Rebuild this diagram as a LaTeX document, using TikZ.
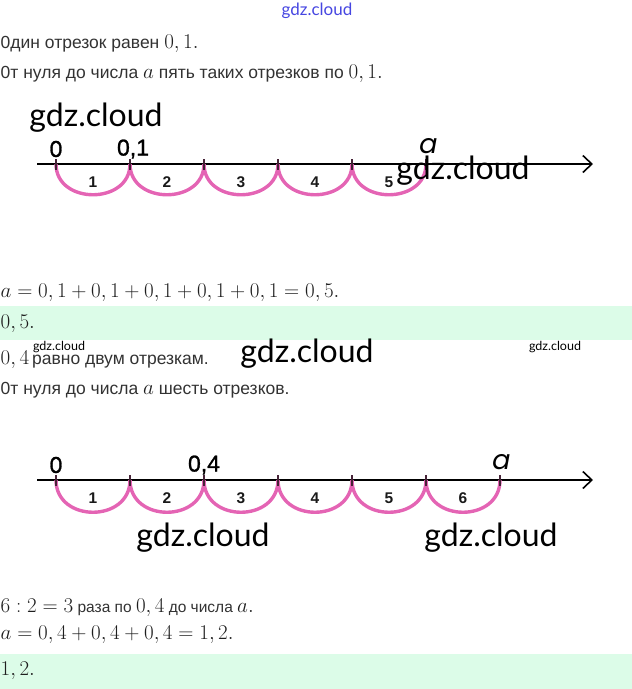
\RequirePackage{fix-cm}
\documentclass[tikz,border=0pt]{standalone}
\usepackage[no-math]{fontspec}
\newfontfamily\tx{Liberation Sans}
\newfontfamily\lbl[FakeBold=1.2]{Liberation Sans}
\newfontfamily\wm{Lato}
\newfontfamily\pop[FakeSlant=0.18]{Poppins}
\usetikzlibrary{arrows.meta}
\definecolor{txtc}{RGB}{50,50,50}
\definecolor{mathc}{RGB}{30,30,30}
\definecolor{band}{RGB}{220,252,232}
\definecolor{arcc}{RGB}{228,100,180}
\definecolor{tickc}{RGB}{70,35,55}
\definecolor{wmblue}{RGB}{70,70,225}
\newcommand\M[1]{{\fontsize{21}{24}\selectfont\color{mathc}$#1$}}
\tikzset{
  txt/.style={anchor=base west, inner sep=0pt, text=txtc, font=\tx\fontsize{17.5}{20}\selectfont},
  txtsm/.style={txt, font=\tx\fontsize{15.5}{18}\selectfont},
  wmbig/.style={inner sep=0pt, text=black, font=\wm\fontsize{32}{36}\selectfont},
  wmsmall/.style={inner sep=0pt, text=black, font=\wm\fontsize{12.5}{14}\selectfont},
  wmtop/.style={inner sep=0pt, text=wmblue, font=\wm\fontsize{17}{19}\selectfont},
  axisline/.style={line width=1.8pt, -{Straight Barb[length=9pt,width=17pt,line width=1.6pt]}},
  tickmark/.style={line width=1.6pt, draw=tickc},
  jump/.style={line width=3.4pt, draw=arcc},
  numlbl/.style={inner sep=0pt, text=black!90, font=\tx\bfseries\fontsize{15.5}{17}\selectfont},
  ptlbl/.style={inner sep=0pt, text=black, font=\lbl\fontsize{23}{26}\selectfont},
  alabel/.style={inner sep=0pt, text=black, font=\pop\fontsize{27}{29}\selectfont},
}
\begin{document}
\begin{tikzpicture}[x=1pt,y=-1pt]
\useasboundingbox (0,0) rectangle (632,689);
% answer bands
\fill[band] (0,306) rectangle (632,340);
\fill[band] (0,654) rectangle (632,689);

% text rows
\node[txt] (r1) at (0.5,48) {0дин отрезок равен \M{0,1.}};
\node[txt] (r2) at (0.5,78) {0т нуля до числа \M{a} пять таких отрезков по \M{0,1.}};
\node[txt] (r3) at (0.5,297) {\M{a=0,1+0,1+0,1+0,1+0,1=0,5.}};
\node[txt] (r4) at (0.5,328) {\M{0,5.}};
\node[txt] (r5) at (0.5,364) {\M{0,4}\,равно двум отрезкам.};
\node[txt] (r6) at (0.5,394) {0т нуля до числа \M{a} шесть отрезков.};
\node[txtsm] (r7) at (0.5,612) {\M{6:2=3} раза по \M{0,4} до числа \M{a.}};
\node[txt] (r8) at (0.5,639) {\M{a=0,4+0,4+0,4=1,2.}};
\node[txt] (r9) at (0.5,675) {\M{1,2.}};

% ---------- number line 1 ----------
\coordinate (s1) at (37,164);
\coordinate (e1) at (593,164);
\draw[axisline] (s1) -- (e1);
\foreach \i in {0,...,5} \coordinate (p\i) at ({56+74*\i},164);
\foreach \i [evaluate=\i as \j using int(\i+1)] in {0,...,4}
  \draw[jump] (p\i) .. controls +(0,41) and +(0,41) .. (p\j);
\foreach \i in {0,...,5} \draw[tickmark] (p\i) ++(0,-5) -- ++(0,11);
\foreach \i [evaluate=\i as \j using int(\i+1)] in {0,...,4}
  \node[numlbl] (n\j) at ({93+74*\i},182) {\j};
\node[ptlbl] (l0) at (56,149) {0};
\node[ptlbl] (l1) at (133,149) {0,1};
\node[alabel] (la) at (427,146) {a};

% ---------- number line 2 ----------
\coordinate (s2) at (37,480);
\coordinate (e2) at (593,480);
\draw[axisline] (s2) -- (e2);
\foreach \i in {0,...,6} \coordinate (q\i) at ({56+74*\i},480);
\foreach \i [evaluate=\i as \j using int(\i+1)] in {0,...,5}
  \draw[jump] (q\i) .. controls +(0,43) and +(0,43) .. (q\j);
\foreach \i in {0,...,6} \draw[tickmark] (q\i) ++(0,-5) -- ++(0,11);
\foreach \i [evaluate=\i as \j using int(\i+1)] in {0,...,5}
  \node[numlbl] (m\j) at ({93+74*\i},498) {\j};
\node[ptlbl] (k0) at (56,465) {0};
\node[ptlbl] (k1) at (204,465) {0,4};
\node[alabel] (ka) at (500,462) {a};

% ---------- watermarks ----------
\node[wmtop] (w0) at (317,11) {gdz.cloud};
\node[wmbig] (w1) at (96,118) {gdz.cloud};
\node[wmbig] (w2) at (463,171) {gdz.cloud};
\node[wmbig] (w3) at (307,354) {gdz.cloud};
\node[wmbig] (w4) at (203,538) {gdz.cloud};
\node[wmbig] (w5) at (491,538) {gdz.cloud};
\node[wmsmall] (w6) at (59,347) {gdz.cloud};
\node[wmsmall] (w7) at (555,347) {gdz.cloud};
\end{tikzpicture}
\end{document}
